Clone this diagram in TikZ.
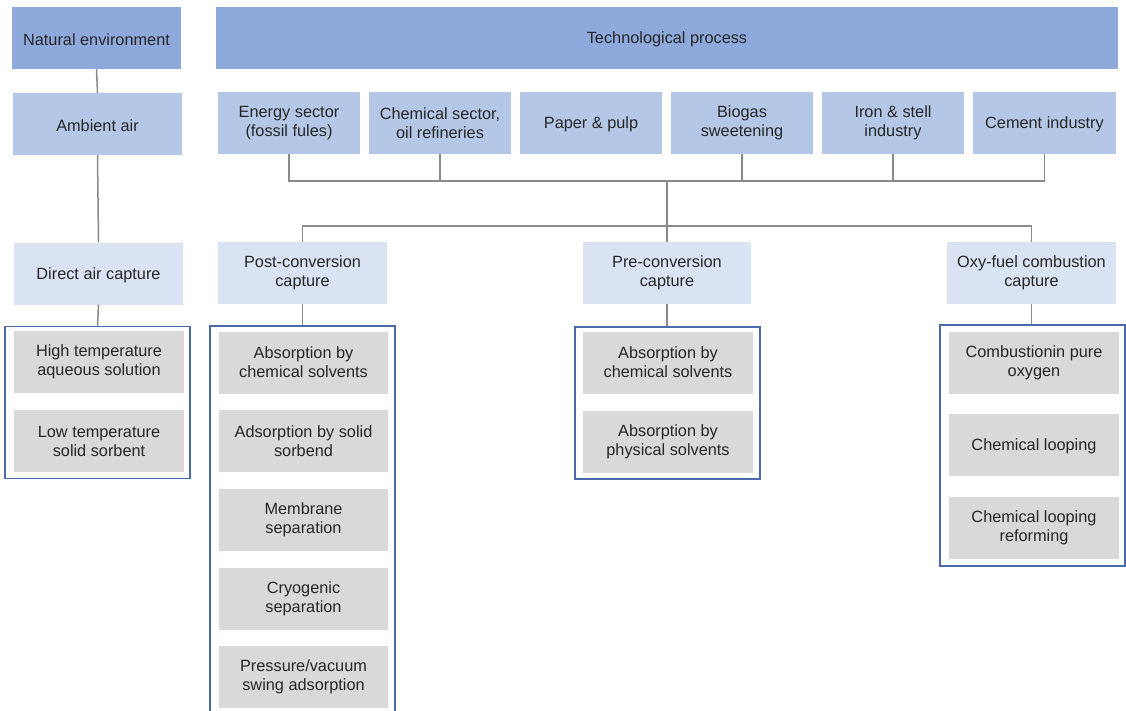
\documentclass[tikz,border=0pt]{standalone}
\usepackage{fontspec}
\setmainfont{Liberation Sans}
\definecolor{hdr}{HTML}{8EA9DB}
\definecolor{sec}{HTML}{B4C7E7}
\definecolor{cap}{HTML}{DAE3F3}
\definecolor{itm}{HTML}{D9D9D9}
\definecolor{grp}{HTML}{4A6AAE}
\definecolor{ln}{HTML}{8A8A8A}
\definecolor{txt}{HTML}{262626}
\tikzset{
  base/.style={inner sep=0pt, align=center, text=txt,
    font=\fontsize{16.3}{19}\selectfont,
    execute at begin node={\rule{0pt}{14.5pt}}},
  hdrbox/.style={base, fill=hdr, minimum height=62pt},
  secbox/.style={base, fill=sec, minimum height=62pt},
  capbox/.style={base, fill=cap, minimum height=62pt},
  itmbox/.style={base, fill=itm, minimum width=170pt, minimum height=62pt},
  grpbox/.style={draw=grp, line width=1.3pt, inner sep=0pt, minimum width=185pt},
  conn/.style={draw=ln, line width=1.5pt},
}
\begin{document}
\begin{tikzpicture}[x=1pt,y=-1pt]
\useasboundingbox (0,0) rectangle (1126,710);
% headers
\node[hdrbox, minimum width=169pt] (nat) at (96.5,38) {Natural environment};
\node[hdrbox, minimum width=902pt] (tech) at (667,38) {Technological process};
% second row
\node[secbox, minimum width=169pt] (amb) at (97.5,124) {Ambient air};
\node[secbox, minimum width=142pt] (ene) at (289,123) {Energy sector\\(fossil fules)};
\node[secbox, minimum width=142pt] (che) at (440,123) {Chemical sector,\\oil refineries};
\node[secbox, minimum width=142pt] (pap) at (591,123) {Paper \& pulp};
\node[secbox, minimum width=142pt] (bio) at (742,123) {Biogas\\sweetening};
\node[secbox, minimum width=142pt] (iro) at (893,123) {Iron \& stell\\industry};
\node[secbox, minimum width=143pt] (cem) at (1044.5,123) {Cement industry};
% third row
\node[capbox, minimum width=169pt] (dac) at (98.5,273.5) {Direct air capture};
\node[capbox, minimum width=169pt] (post) at (302.5,273) {Post-conversion\\capture};
\node[capbox, minimum width=168pt] (pre) at (667,273) {Pre-conversion\\capture};
\node[capbox, minimum width=169pt] (oxy) at (1031.5,273) {Oxy-fuel combustion\\capture};
% groups
\node[grpbox, minimum height=152pt] (gdac) at (97.5,402.5) {};
\node[grpbox, minimum height=390pt] (gpost) at (302.5,521) {};
\node[grpbox, minimum height=152pt] (gpre) at (667.5,403) {};
\node[grpbox, minimum height=241pt] (goxy) at (1032.5,445.5) {};
% items DAC
\node[itmbox] (d1) at (99,362) {High temperature\\aqueous solution};
\node[itmbox] (d2) at (99,441) {Low temperature\\solid sorbent};
% items post
\node[itmbox, minimum width=169pt] (p1) at (303.5,362.5) {Absorption by\\chemical solvents};
\node[itmbox, minimum width=169pt] (p2) at (303.5,441) {Adsorption by solid\\sorbend};
\node[itmbox, minimum width=169pt] (p3) at (303.5,520) {Membrane\\separation};
\node[itmbox, minimum width=169pt] (p4) at (303.5,599) {Cryogenic\\separation};
\node[itmbox, minimum width=169pt] (p5) at (303.5,677) {Pressure/vacuum\\swing adsorption};
% items pre
\node[itmbox] (r1) at (668,362.5) {Absorption by\\chemical solvents};
\node[itmbox] (r2) at (668,442) {Absorption by\\physical solvents};
% items oxy
\node[itmbox] (o1) at (1034,362.5) {Combustionin pure\\oxygen};
\node[itmbox] (o2) at (1034,445) {Chemical looping};
\node[itmbox] (o3) at (1034,527.5) {Chemical looping\\reforming};
% connectors left column
\draw[conn] (nat.south) -- (amb.north);
\draw[conn] (amb.south) -- (dac.north);
\draw[conn] (dac.south) -- (gdac.north);
% bus from sectors
\coordinate (bus1) at (667,181);
\coordinate (bus2) at (667,226);
\draw[conn] (ene.south) |- (bus1) -| (cem.south);
\draw[conn] (che.south) -- (che.south |- bus1);
\draw[conn] (bio.south) -- (bio.south |- bus1);
\draw[conn] (iro.south) -- (iro.south |- bus1);
\draw[conn] (bus1) -- (bus2);
\draw[conn] (post.north) |- (bus2) -| (oxy.north);
\draw[conn] (pre.north) -- (bus2);
\draw[conn] (post.south) -- (gpost.north -| post.south);
\draw[conn] (pre.south) -- (gpre.north -| pre.south);
\draw[conn] (oxy.south) -- (goxy.north -| oxy.south);
\end{tikzpicture}
\end{document}
